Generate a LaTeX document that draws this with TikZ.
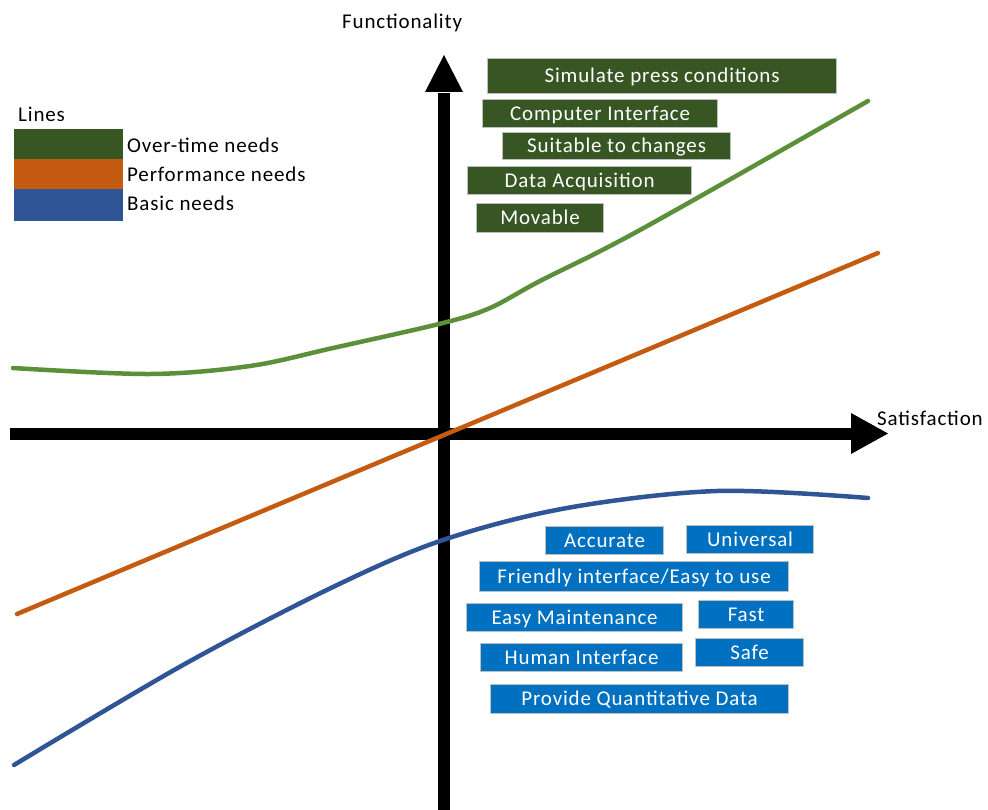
\documentclass[tikz,border=0pt]{standalone}
\usepackage{fontspec}
\setmainfont{Carlito}[LetterSpace=4]
\definecolor{gboxc}{HTML}{375623}
\definecolor{bboxc}{HTML}{0070C0}
\definecolor{lgreen}{HTML}{375623}
\definecolor{lorange}{HTML}{C55A11}
\definecolor{lblue}{HTML}{2F5597}
\definecolor{cgreen}{HTML}{5B8F3A}
\definecolor{corange}{HTML}{C55A11}
\definecolor{cblue}{HTML}{2F5597}
\definecolor{bordc}{HTML}{BFBFBF}
\begin{document}
\begin{tikzpicture}[x=1pt,y=-1pt,
  every node/.style={font=\fontsize{21}{25}\selectfont},
  boxbase/.style={anchor=north west, inner sep=0pt, draw=bordc, line width=1.2pt,
    text=white, text height=13.5pt, text depth=0pt, align=center},
  gbox/.style={boxbase, fill=gboxc},
  bbox/.style={boxbase, fill=bboxc},
  lbl/.style={anchor=base west, inner sep=0pt, text=black},
  curve/.style={line width=4.5pt, line cap=round},
  axisline/.style={line width=12pt, black}]
\useasboundingbox (0,0) rectangle (988,810);
% axes
\coordinate (vbot) at (444,810);
\coordinate (vbase) at (444,92);
\coordinate (vtip) at (444,55);
\coordinate (hleft) at (10,433.5);
\coordinate (hbase) at (851,433.5);
\coordinate (htip) at (888,433.5);
\draw[axisline] (vbot) -- ([yshift=-1pt]vbase);
\fill[black] (425,92) -- (vtip) -- (463,92) -- cycle;
\draw[axisline] (hleft) -- ([xshift=1pt]hbase);
\fill[black] (851,413) -- (htip) -- (851,454) -- cycle;
\node[lbl] (func) at (342,29) {Functionality};
\node[lbl] (sat) at (877,425) {Satisfaction};
% curves
\draw[curve, cgreen] plot[smooth, tension=0.55] coordinates {(13,368) (150,374) (250,366) (333,348) (443,323) (490,308) (540,281) (640,230) (868,101)};
\coordinate (ostart) at (17,614);
\coordinate (oend) at (878,253);
\draw[curve, corange] (ostart) -- (oend);
\draw[curve, cblue] plot[smooth, tension=0.55] coordinates {(14,765) (183,665) (333,587) (443,540) (567,508) (717,491) (868,498)};
% legend
\node[lbl] (lines) at (18,122) {Lines};
\fill[lgreen] (14,129) rectangle (123,159);
\fill[lorange] (14,159) rectangle (123,189);
\fill[lblue] (14,189) rectangle (123,221);
\node[lbl] (lg) at (127,153) {Over-time needs};
\node[lbl] (lo) at (127,182) {Performance needs};
\node[lbl] (lb) at (127,211) {Basic needs};
% green boxes
\node[gbox, minimum width=349pt, minimum height=35pt] (g1) at (487,58) {Simulate press conditions};
\node[gbox, minimum width=235pt, minimum height=28pt] (g2) at (482,99) {Computer Interface};
\node[gbox, minimum width=228pt, minimum height=27pt] (g3) at (502,132) {Suitable to changes};
\node[gbox, minimum width=224pt, minimum height=28pt] (g4) at (467,166) {Data Acquisition};
\node[gbox, minimum width=127pt, minimum height=29pt] (g5) at (476,203) {Movable};
% blue boxes
\node[bbox, minimum width=118pt, minimum height=28pt] (b1) at (545,526) {Accurate};
\node[bbox, minimum width=127pt, minimum height=28pt] (b2) at (686,525) {Universal};
\node[bbox, minimum width=309pt, minimum height=30pt] (b3) at (479,561) {Friendly interface/Easy to use};
\node[bbox, minimum width=216pt, minimum height=28pt] (b4) at (466,603) {Easy Maintenance};
\node[bbox, minimum width=95pt, minimum height=28pt] (b5) at (698,600) {Fast};
\node[bbox, minimum width=202pt, minimum height=28pt] (b6) at (480,643) {Human Interface};
\node[bbox, minimum width=108pt, minimum height=28pt] (b7) at (695,638) {Safe};
\node[bbox, minimum width=298pt, minimum height=29pt] (b8) at (490,684) {Provide Quantitative Data};
\end{tikzpicture}
\end{document}
